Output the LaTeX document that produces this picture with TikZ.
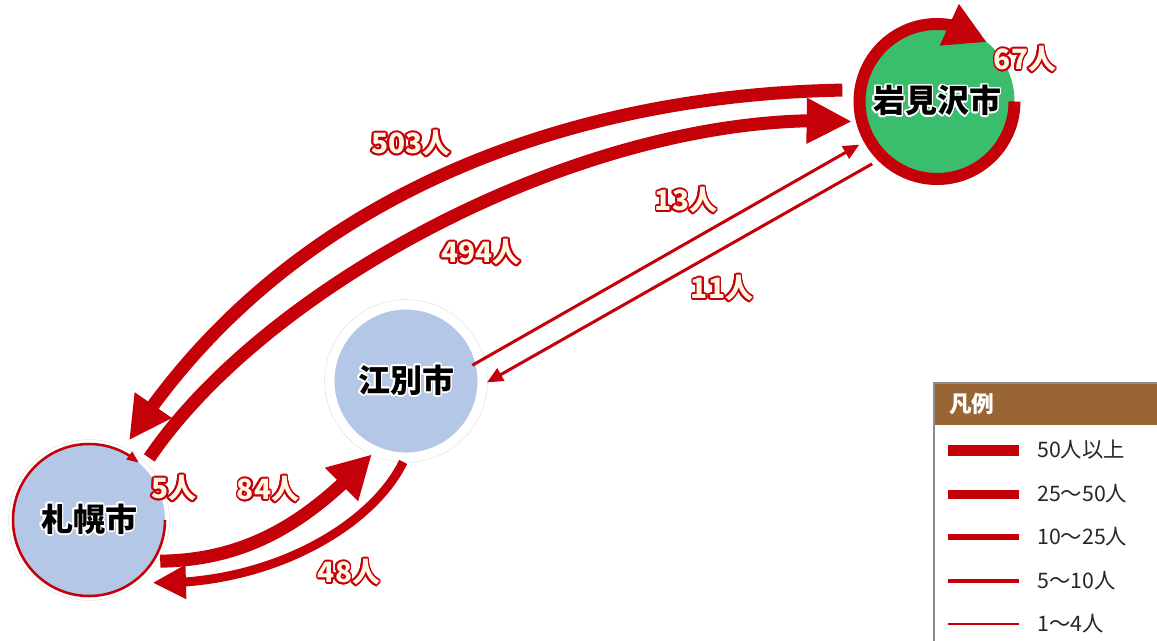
\documentclass[tikz,border=0pt]{standalone}
\usepackage{fontspec}
\setmainfont{Noto Sans CJK JP}
\usepackage{contour}
\contourlength{1.3pt}
\usetikzlibrary{arrows.meta,bending}
\definecolor{arr}{RGB}{196,0,8}
\definecolor{cream}{RGB}{255,246,228}
\definecolor{iwagreen}{RGB}{58,190,110}
\definecolor{cityblue}{RGB}{180,199,231}
\definecolor{legbrown}{RGB}{154,101,52}
\begin{document}
\begin{tikzpicture}[x=0.75pt,y=-0.75pt,
  lbl/.style={font=\bfseries\fontsize{21}{21}\selectfont, text=cream, inner sep=0pt},
  cityname/.style={circle, inner sep=0pt, font=\bfseries\fontsize{24}{24}\selectfont, text=black},
  flow/.style={draw=arr, line cap=butt},
  legline/.style={draw=arr},
  legtext/.style={anchor=west, inner sep=0pt, font=\fontsize{16}{16}\selectfont, text=black!85},
]
\useasboundingbox (0,0) rectangle (1157,640);
\fill[white] (0,0) rectangle (1157,640);

% faint outer edges of the white borders
\draw[black!12, line width=0.5pt] (406,381) circle (81.3);
\draw[black!12, line width=0.5pt] (89,520) circle (80.3);

% city nodes
\node[cityname, fill=iwagreen, minimum size=116.25pt, outer sep=4.5pt] (iwa) at (937,101.5) {\contour{white}{岩見沢市}};
\node[cityname, fill=cityblue, draw=white, line width=7.1pt, minimum size=114.4pt] (eb) at (406,381) {\contour{white}{江別市}};
\node[cityname, fill=cityblue, draw=white, line width=3pt, minimum size=117pt] (sap) at (89,520) {\contour{white}{札幌市}};

% self loops
\draw[flow, line width=9pt, -{Triangle[length=31pt,width=32pt]}] (iwa.center) ++(77.5,0) arc[start angle=0, end angle=310, radius=77.5];
\draw[flow, line width=1.9pt, -{Triangle[length=9pt,width=7pt]}] (sap.center) ++(76,0) arc[start angle=0, end angle=311, radius=76];

% flows
\draw[flow, line width=9.75pt, shorten <=9pt, shorten >=7pt, -{Triangle[length=32pt,width=31.5pt]}]
  (iwa.172) .. controls (560,95) and (280,200) .. (sap.64);
\draw[flow, line width=9.75pt, shorten <=5pt, shorten >=3pt, -{Triangle[length=34pt,width=32pt]}]
  (sap.45) .. controls (270,280) and (600,105) .. (iwa.194);
\draw[flow, line width=9.75pt, shorten <=2pt, -{Triangle[length=32pt,width=33pt]}]
  (sap.-31) .. controls (250,560) and (310,520) .. (eb.245);
\draw[flow, line width=6.75pt, shorten >=10pt, -{Triangle[length=25pt,width=24pt]}]
  (eb.268) .. controls (370,530) and (260,590) .. (sap.-51);
\draw[flow, line width=2.25pt, shorten <=-10pt, shorten >=4pt, -{Triangle[length=12pt,width=10.5pt]}]
  (eb.16) -- (iwa.209);
\draw[flow, line width=2.25pt, shorten <=5pt, -{Triangle[length=12pt,width=10.5pt]}]
  (iwa.225) -- (eb.-1);

% labels
\node[lbl] (l503) at (411,144) {\contour{arr}{503人}};
\node[lbl] (l494) at (481,253) {\contour{arr}{494人}};
\node[lbl] (l13) at (686,201) {\contour{arr}{13人}};
\node[lbl] (l11) at (722,289) {\contour{arr}{11人}};
\node[lbl] (l67) at (1025,60) {\contour{arr}{67人}};
\node[lbl] (l5) at (174,489) {\contour{arr}{5人}};
\node[lbl] (l84) at (268,490) {\contour{arr}{84人}};
\node[lbl] (l48) at (349,573) {\contour{arr}{48人}};

% legend
\fill[legbrown] (934,383) rectangle (1160,425);
\draw[black!45, line width=1.5pt] (934,645) -- (934,383) -- (1160,383);
\node[anchor=west, inner sep=0pt, font=\bfseries\fontsize{17}{17}\selectfont, text=white] (legh) at (949,404) {凡例};
\draw[legline, line width=8.25pt] (948,450) -- (1019,450);
\draw[legline, line width=6.75pt] (948,494) -- (1019,494);
\draw[legline, line width=4.5pt] (948,537) -- (1019,537);
\draw[legline, line width=2.6pt] (948,581) -- (1019,581);
\draw[legline, line width=1.4pt] (948,624) -- (1019,624);
\node[legtext] (t1) at (1037,450) {50人以上};
\node[legtext] (t2) at (1037,494) {25〜50人};
\node[legtext] (t3) at (1037,537) {10〜25人};
\node[legtext] (t4) at (1037,581) {5〜10人};
\node[legtext] (t5) at (1037,624) {1〜4人};
\end{tikzpicture}
\end{document}
